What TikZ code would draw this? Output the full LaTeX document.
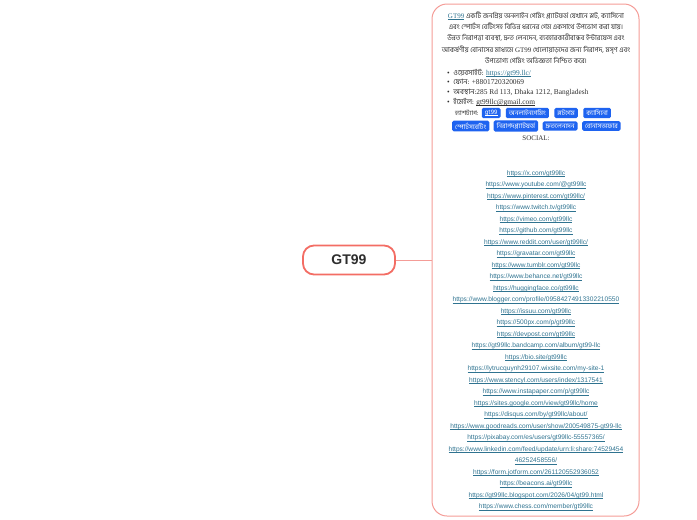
\documentclass[tikz,border=0pt]{standalone}
\usepackage{fontspec}
\setmainfont{Liberation Serif}
\setsansfont{Liberation Sans}
\newfontfamily\bn[Script=Bengali]{Hind Siliguri}
\usetikzlibrary{positioning}
\definecolor{rootred}{HTML}{F36D64}
\definecolor{boxred}{HTML}{F49C97}
\definecolor{linkteal}{HTML}{2F7390}
\definecolor{tagblue}{HTML}{1E63F0}
\definecolor{inktext}{HTML}{2E2E2E}
\newcommand{\lnk}[1]{\setbox0\hbox{#1}\rlap{\rule[-1.1pt]{\wd0}{0.45pt}}\box0}

\begin{document}
\begin{tikzpicture}[x=1pt, y=-1pt,
    root/.style={rectangle, rounded corners=11pt, draw=rootred, line width=1.8pt, fill=white, minimum width=92pt, minimum height=29pt, font=\sffamily\bfseries\fontsize{14}{16}\selectfont, text=inktext},
    infobox/.style={rectangle, rounded corners=15pt, draw=boxred, line width=1pt, minimum width=207pt, minimum height=512pt},
    branch/.style={draw=boxred, line width=1pt},
    para/.style={align=center, inner sep=0pt, text=inktext, font=\fontsize{7}{11.3}\selectfont},
    bullets/.style={align=left, inner sep=0pt, text=inktext, font=\fontsize{7.4}{9.4}\selectfont},
    tag/.style={rectangle, rounded corners=1.5pt, fill=tagblue, text=white, inner xsep=3pt, inner ysep=2.3pt, font=\bn\fontsize{6.6}{7}\selectfont},
    links/.style={align=center, inner sep=0pt, text=linkteal, font=\sffamily\fontsize{6.6}{11.5}\selectfont}
]
\useasboundingbox (0,0) rectangle (697,520);

% Nodes
\node[root] (gt) at (349,260) {GT99};
\node[infobox] (info) at (535.5,260) {};

\node[para, anchor=north] (intro) at (536,11.5) {%
  {\color{linkteal}\lnk{GT99}} {\bn একটি জনপ্রিয় অনলাইন গেমিং প্ল্যাটফর্ম যেখানে স্লট, ক্যাসিনো}\\
  {\bn এবং স্পোর্টস বেটিংসহ বিভিন্ন ধরনের গেম একসাথে উপভোগ করা যায়।}\\
  {\bn উন্নত নিরাপত্তা ব্যবস্থা, দ্রুত লেনদেন, ব্যবহারকারীবান্ধব ইন্টারফেস এবং}\\
  {\bn আকর্ষণীয় বোনাসের মাধ্যমে} GT99 {\bn খেলোয়াড়দের জন্য নিরাপদ, মসৃণ এবং}\\
  {\bn উপভোগ্য গেমিং অভিজ্ঞতা নিশ্চিত করে।}};

\node[bullets, anchor=north west] (contact) at (447,69) {%
  \textbullet\ \ {\bn ওয়েবসাইট:} {\color{linkteal}\lnk{https://gt99.llc/}}\\
  \textbullet\ \ {\bn ফোন:} +8801720320069\\
  \textbullet\ \ {\bn অবস্থান:}285 Rd 113, Dhaka 1212, Bangladesh\\[1pt]
  \textbullet\ \ {\bn ইমেইল:} \lnk{gt99llc@gmail.com}};

\node[para, anchor=west, font=\bn\fontsize{6.4}{7}\selectfont] (hash) at (455,113) {হ্যাশট্যাগ:};
\node[tag, right=3pt of hash] (t1) {\lnk{gt99}};
\node[tag, right=5pt of t1] (t2) {অনলাইনগেমিং};
\node[tag, right=5pt of t2] (t3) {স্লটগেম};
\node[tag, right=5pt of t3] (t4) {ক্যাসিনো};
\node[tag, anchor=west] (t5) at (452,126) {স্পোর্টসবেটিং};
\node[tag, right=4pt of t5] (t6) {নিরাপদপ্ল্যাটফর্ম};
\node[tag, right=4pt of t6] (t7) {দ্রুতলেনদেন};
\node[tag, right=4pt of t7] (t8) {বোনাসঅফার};

\node[para] (social) at (536,138.5) {SOCIAL:};

\node[links, anchor=north] (urls) at (536,170.5) {%
  \lnk{https://x.com/gt99llc}\\
  \lnk{https://www.youtube.com/@gt99llc}\\
  \lnk{https://www.pinterest.com/gt99llc/}\\
  \lnk{https://www.twitch.tv/gt99llc}\\
  \lnk{https://vimeo.com/gt99llc}\\
  \lnk{https://github.com/gt99llc}\\
  \lnk{https://www.reddit.com/user/gt99llc/}\\
  \lnk{https://gravatar.com/gt99llc}\\
  \lnk{https://www.tumblr.com/gt99llc}\\
  \lnk{https://www.behance.net/gt99llc}\\
  \lnk{https://huggingface.co/gt99llc}\\
  \lnk{https://www.blogger.com/profile/09584274913302210550}\\
  \lnk{https://issuu.com/gt99llc}\\
  \lnk{https://500px.com/p/gt99llc}\\
  \lnk{https://devpost.com/gt99llc}\\
  \lnk{https://gt99llc.bandcamp.com/album/gt99-llc}\\
  \lnk{https://bio.site/gt99llc}\\
  \lnk{https://lytrucquynh29107.wixsite.com/my-site-1}\\
  \lnk{https://www.stencyl.com/users/index/1317541}\\
  \lnk{https://www.instapaper.com/p/gt99llc}\\
  \lnk{https://sites.google.com/view/gt99llc/home}\\
  \lnk{https://disqus.com/by/gt99llc/about/}\\
  \lnk{https://www.goodreads.com/user/show/200549875-gt99-llc}\\
  \lnk{https://pixabay.com/es/users/gt99llc-55557365/}\\
  \lnk{https://www.linkedin.com/feed/update/urn:li:share:74529454}\\
  \lnk{46252458556/}\\
  \lnk{https://form.jotform.com/261120552936052}\\
  \lnk{https://beacons.ai/gt99llc}\\
  \lnk{https://gt99llc.blogspot.com/2026/04/gt99.html}\\
  \lnk{https://www.chess.com/member/gt99llc}};

% Edges
\draw[branch] (gt.east) -- (info.west);

\end{tikzpicture}
\end{document}
